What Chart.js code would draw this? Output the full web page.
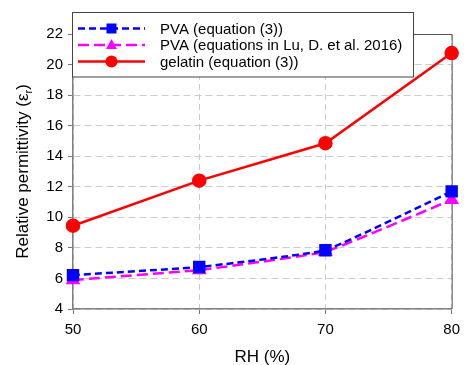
<!DOCTYPE html>
<html lang="en">
<head>
<meta charset="UTF-8">
<title>Relative permittivity vs RH</title>
<script src="https://cdn.jsdelivr.net/npm/chart.js"></script>
<style>
  body { margin: 0; background: #fff; }
  #wrap { width: 467px; height: 365px; }
</style>
</head>
<body>
<div id="wrap"><canvas id="myChart" width="467" height="365"></canvas></div>
<script>
// data
const rh = [50, 60, 70, 80];
const pvaEq3 = [6.22, 6.75, 7.85, 11.7];
const pvaLu = [5.9, 6.55, 7.75, 11.15];
const gelatin = [9.45, 12.4, 14.85, 20.75];
const seriesNames = ['PVA (equation (3))', 'PVA (equations in Lu, D. et al. 2016)', 'gelatin (equation (3))'];
const yTicks = [4, 6, 8, 10, 12, 14, 16, 18, 20, 22];

const FONT = '"Liberation Sans", Arial, sans-serif';

function toPoints(xs, ys) {
    return xs.map((x, i) => ({ x: x, y: ys[i] }));
}

// draws top/right frame, axis titles and the boxed legend
const decor = {
    id: 'decor',
    beforeDatasetsDraw(chart) {
        const ctx = chart.ctx, a = chart.chartArea;
        ctx.save();
        ctx.strokeStyle = '#555';
        ctx.lineWidth = 1;
        ctx.beginPath();
        ctx.moveTo(a.left, a.top + 0.5);
        ctx.lineTo(a.right + 0.5, a.top + 0.5);
        ctx.lineTo(a.right + 0.5, a.bottom);
        ctx.stroke();
        ctx.restore();
    },
    afterDraw(chart) {
        const ctx = chart.ctx, a = chart.chartArea;
        ctx.save();

        // x title
        ctx.fillStyle = '#000';
        ctx.font = '17px ' + FONT;
        ctx.textAlign = 'center';
        ctx.textBaseline = 'alphabetic';
        ctx.fillText('RH (%)', (a.left + a.right) / 2, 362);

        // y title with subscript r
        const main = 'Relative permittivity (\u03b5';
        ctx.font = '17px ' + FONT;
        const w1 = ctx.measureText(main).width;
        ctx.font = '11px ' + FONT;
        const w2 = ctx.measureText('r').width;
        ctx.font = '17px ' + FONT;
        const w3 = ctx.measureText(')').width;
        const total = w1 + w2 + w3;
        ctx.translate(28, (a.top + a.bottom) / 2);
        ctx.rotate(-Math.PI / 2);
        ctx.textAlign = 'left';
        let x0 = -total / 2;
        ctx.fillText(main, x0, 0);
        ctx.font = '11px ' + FONT;
        ctx.fillText('r', x0 + w1, 4);
        ctx.font = '17px ' + FONT;
        ctx.fillText(')', x0 + w1 + w2, 0);
        ctx.setTransform(1, 0, 0, 1, 0, 0);

        // legend box
        const bx = 72.5, by = 12.5, bw = 341, bh = 64.5;
        ctx.fillStyle = '#fff';
        ctx.fillRect(bx, by, bw, bh);
        ctx.strokeStyle = '#444';
        ctx.lineWidth = 1;
        ctx.strokeRect(bx, by, bw, bh);

        const rows = [28.5, 45, 61.5];
        chart.data.datasets.forEach((ds, i) => {
            const y = rows[i];
            ctx.strokeStyle = ds.borderColor;
            ctx.lineWidth = ds.borderWidth;
            ctx.setLineDash(ds.borderDash || []);
            ctx.beginPath();
            ctx.moveTo(78, y);
            ctx.lineTo(145, y);
            ctx.stroke();
            ctx.setLineDash([]);
            ctx.fillStyle = ds.pointBackgroundColor;
            const mx = 111.5;
            ctx.beginPath();
            if (ds.pointStyle === 'rect') {
                ctx.rect(mx - 5, y - 5, 10, 10);
            } else if (ds.pointStyle === 'triangle') {
                ctx.moveTo(mx, y - 6);
                ctx.lineTo(mx + 5.5, y + 4);
                ctx.lineTo(mx - 5.5, y + 4);
                ctx.closePath();
            } else {
                ctx.arc(mx, y, 6, 0, Math.PI * 2);
            }
            ctx.fill();
            ctx.fillStyle = '#000';
            ctx.font = '15px ' + FONT;
            ctx.textAlign = 'left';
            ctx.textBaseline = 'middle';
            ctx.fillText(ds.label, 160, y + 1);
        });
        ctx.restore();
    }
};

const data = {
    datasets: [{
        label: seriesNames[0],
        data: toPoints(rh, pvaEq3),
        borderColor: '#0000ff',
        backgroundColor: '#0000ff',
        pointBackgroundColor: '#0000ff',
        pointBorderColor: '#0000ff',
        borderWidth: 2.5,
        borderDash: [7, 4],
        pointStyle: 'rect',
        pointRadius: 7,
        tension: 0.1,
        clip: false
    }, {
        label: seriesNames[1],
        data: toPoints(rh, pvaLu),
        borderColor: '#ff00ff',
        backgroundColor: '#ff00ff',
        pointBackgroundColor: '#ff00ff',
        pointBorderColor: '#ff00ff',
        borderWidth: 2.5,
        borderDash: [11, 5],
        pointStyle: 'triangle',
        pointRadius: 6,
        tension: 0.1,
        clip: false
    }, {
        label: seriesNames[2],
        data: toPoints(rh, gelatin),
        borderColor: '#ff0000',
        backgroundColor: '#ff0000',
        pointBackgroundColor: '#ff0000',
        pointBorderColor: '#ff0000',
        borderWidth: 2.5,
        pointStyle: 'circle',
        pointRadius: 6,
        tension: 0,
        clip: false
    }]
};

// in v4 border.dash dashes the grid lines, the axis line itself stays solid
const config = {
    type: 'line',
    data: data,
    options: {
        responsive: false,
        animation: false,
        layout: { padding: { top: 34, right: 8.5, left: 0, bottom: 0 } },
        plugins: { legend: { display: false }, tooltip: { enabled: false } },
        scales: {
            x: {
                type: 'linear',
                min: 50,
                max: 80,
                ticks: { stepSize: 10, color: '#000', padding: 7, font: { family: FONT, size: 15 } },
                grid: { color: '#cccccc', tickLength: 5, tickColor: '#777' },
                border: { color: '#808080', width: 1.5, dash: [6, 4] },
                afterFit(scale) { scale.height = 56; }
            },
            y: {
                min: 4,
                max: 22,
                afterBuildTicks(scale) { scale.ticks = yTicks.map(v => ({ value: v })); },
                ticks: { color: '#000', padding: 5, font: { family: FONT, size: 15 } },
                grid: { color: '#cccccc', tickLength: 5, tickColor: '#777' },
                border: { color: '#808080', width: 1.5, dash: [7, 4] },
                afterFit(scale) { scale.width = 73; }
            }
        }
    },
    plugins: [decor]
};

const myChart = new Chart(document.getElementById('myChart'), config);
</script>
</body>
</html>
